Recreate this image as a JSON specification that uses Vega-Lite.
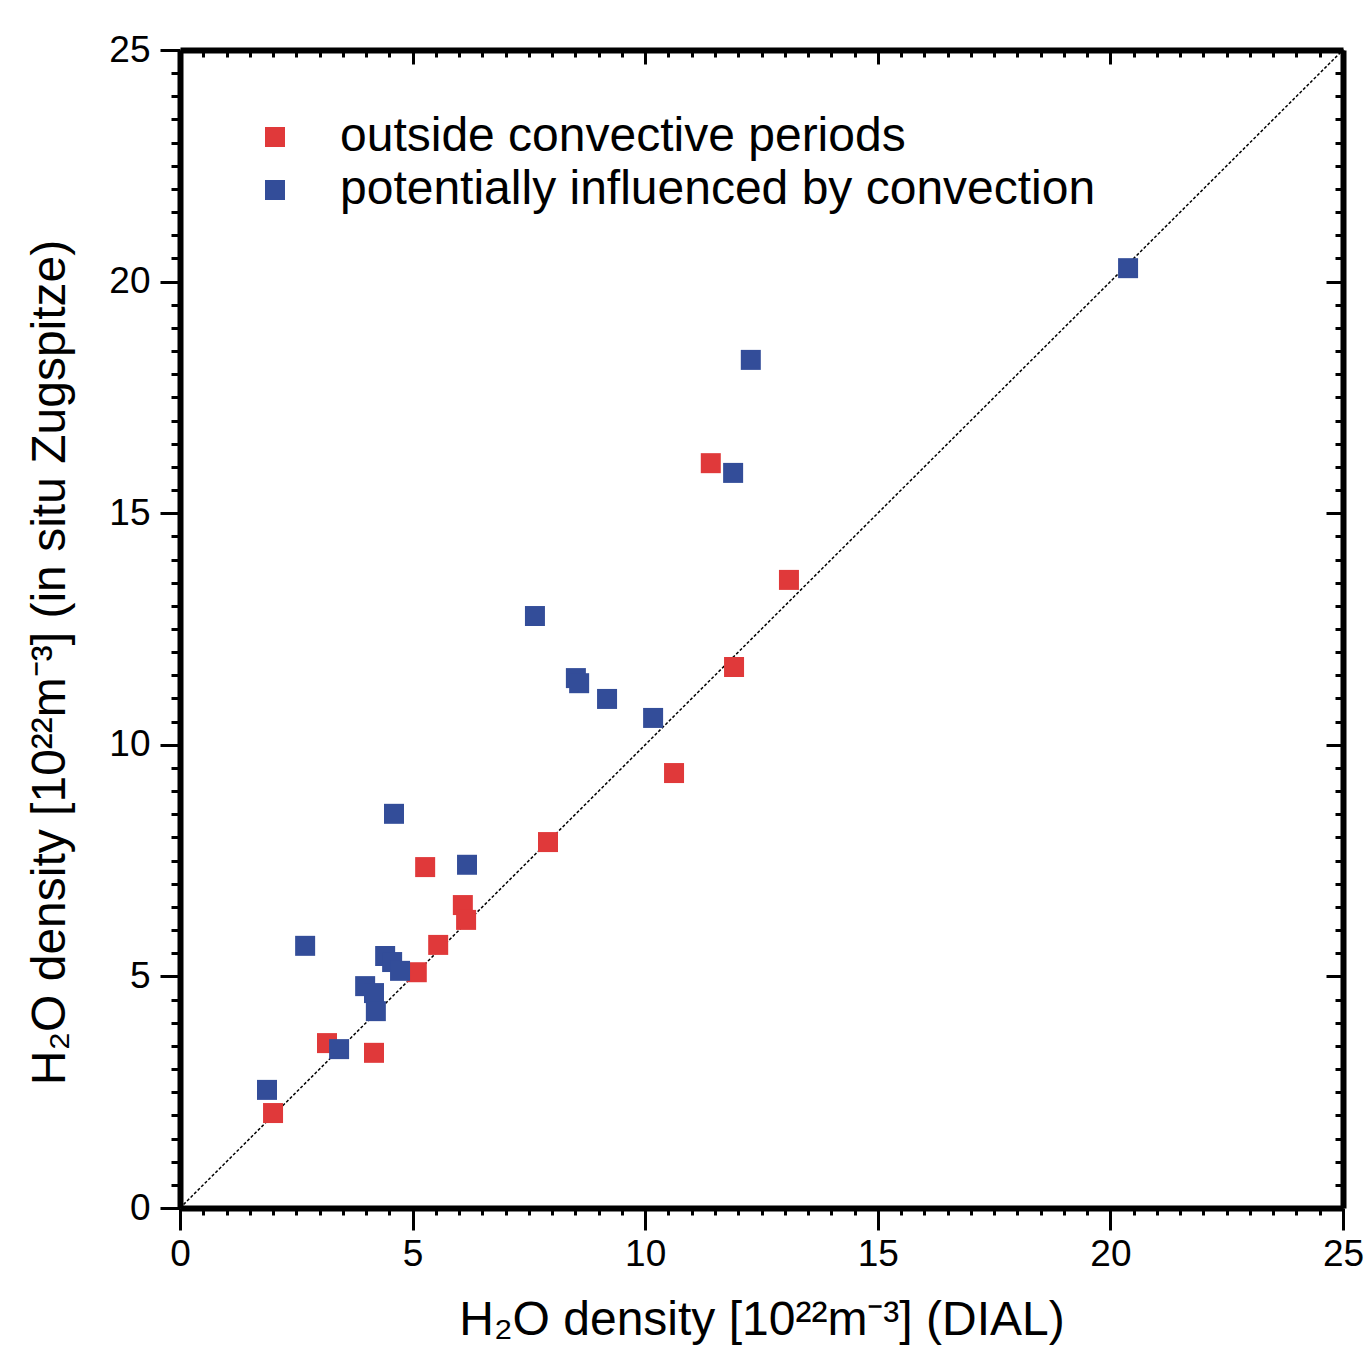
{
  "$schema": "https://vega.github.io/schema/vega-lite/v6.json",
  "width": 1163,
  "height": 1158,
  "autosize": "none",
  "padding": {"left": 180, "top": 50, "right": 23, "bottom": 144},
  "background": "white",
  "config": {
    "font": "Liberation Sans",
    "view": {"stroke": null},
    "axis": {"grid": false, "domainColor": "black", "domainWidth": 6, "tickColor": "black", "tickWidth": 3, "labelColor": "black", "titleColor": "black", "labelFont": "Liberation Sans", "titleFont": "Liberation Sans", "labelFontWeight": "normal", "titleFontWeight": "normal"}
  },
  "datasets": {
    "pts": [
      {"dial": 11.41, "insitu": 16.08, "group": "outside convective periods"},
      {"dial": 13.09, "insitu": 13.56, "group": "outside convective periods"},
      {"dial": 11.91, "insitu": 11.68, "group": "outside convective periods"},
      {"dial": 10.62, "insitu": 9.39, "group": "outside convective periods"},
      {"dial": 7.91, "insitu": 7.90, "group": "outside convective periods"},
      {"dial": 5.27, "insitu": 7.36, "group": "outside convective periods"},
      {"dial": 6.08, "insitu": 6.54, "group": "outside convective periods"},
      {"dial": 6.15, "insitu": 6.22, "group": "outside convective periods"},
      {"dial": 5.55, "insitu": 5.68, "group": "outside convective periods"},
      {"dial": 5.09, "insitu": 5.09, "group": "outside convective periods"},
      {"dial": 3.16, "insitu": 3.56, "group": "outside convective periods"},
      {"dial": 4.17, "insitu": 3.35, "group": "outside convective periods"},
      {"dial": 2.00, "insitu": 2.05, "group": "outside convective periods"},
      {"dial": 20.38, "insitu": 20.29, "group": "potentially influenced by convection"},
      {"dial": 12.27, "insitu": 18.31, "group": "potentially influenced by convection"},
      {"dial": 11.89, "insitu": 15.87, "group": "potentially influenced by convection"},
      {"dial": 7.63, "insitu": 12.78, "group": "potentially influenced by convection"},
      {"dial": 8.51, "insitu": 11.44, "group": "potentially influenced by convection"},
      {"dial": 8.58, "insitu": 11.33, "group": "potentially influenced by convection"},
      {"dial": 9.18, "insitu": 10.99, "group": "potentially influenced by convection"},
      {"dial": 10.17, "insitu": 10.58, "group": "potentially influenced by convection"},
      {"dial": 4.60, "insitu": 8.51, "group": "potentially influenced by convection"},
      {"dial": 6.17, "insitu": 7.41, "group": "potentially influenced by convection"},
      {"dial": 2.69, "insitu": 5.66, "group": "potentially influenced by convection"},
      {"dial": 4.41, "insitu": 5.44, "group": "potentially influenced by convection"},
      {"dial": 4.56, "insitu": 5.31, "group": "potentially influenced by convection"},
      {"dial": 4.73, "insitu": 5.12, "group": "potentially influenced by convection"},
      {"dial": 3.98, "insitu": 4.79, "group": "potentially influenced by convection"},
      {"dial": 4.17, "insitu": 4.64, "group": "potentially influenced by convection"},
      {"dial": 4.21, "insitu": 4.25, "group": "potentially influenced by convection"},
      {"dial": 3.42, "insitu": 3.43, "group": "potentially influenced by convection"},
      {"dial": 1.87, "insitu": 2.55, "group": "potentially influenced by convection"}
    ],
    "line": [{"x1": 0, "y1": 0, "x2": 25, "y2": 25}]
  },
  "layer": [
    {
      "data": {"name": "line"},
      "mark": {"type": "rule", "color": "black", "strokeOpacity": 0},
      "encoding": {
        "x": {"field": "x1", "type": "quantitative", "scale": {"domain": [0, 25], "nice": false},
          "axis": {"orient": "bottom", "domain": false, "labels": false, "title": null, "tickSize": 7,
            "values": [0.5,1,1.5,2,2.5,3,3.5,4,4.5,5.5,6,6.5,7,7.5,8,8.5,9,9.5,10.5,11,11.5,12,12.5,13,13.5,14,14.5,15.5,16,16.5,17,17.5,18,18.5,19,19.5,20.5,21,21.5,22,22.5,23,23.5,24,24.5]}},
        "y": {"field": "y1", "type": "quantitative", "scale": {"domain": [0, 25], "nice": false},
          "axis": {"orient": "left", "domain": false, "labels": false, "title": null, "tickSize": 9,
            "values": [0.5,1,1.5,2,2.5,3,3.5,4,4.5,5.5,6,6.5,7,7.5,8,8.5,9,9.5,10.5,11,11.5,12,12.5,13,13.5,14,14.5,15.5,16,16.5,17,17.5,18,18.5,19,19.5,20.5,21,21.5,22,22.5,23,23.5,24,24.5]}},
        "x2": {"field": "x2"},
        "y2": {"field": "y2"}
      }
    },
    {
      "data": {"name": "line"},
      "mark": {"type": "rule", "color": "black", "strokeOpacity": 0},
      "encoding": {
        "x": {"field": "x1", "type": "quantitative", "scale": {"domain": [0, 25], "nice": false},
          "axis": {"orient": "top", "domain": false, "labels": false, "title": null, "tickSize": -7,
            "values": [0.5,1,1.5,2,2.5,3,3.5,4,4.5,5.5,6,6.5,7,7.5,8,8.5,9,9.5,10.5,11,11.5,12,12.5,13,13.5,14,14.5,15.5,16,16.5,17,17.5,18,18.5,19,19.5,20.5,21,21.5,22,22.5,23,23.5,24,24.5]}},
        "y": {"field": "y1", "type": "quantitative", "scale": {"domain": [0, 25], "nice": false},
          "axis": {"orient": "right", "domain": false, "labels": false, "title": null, "tickSize": -8,
            "values": [0.5,1,1.5,2,2.5,3,3.5,4,4.5,5.5,6,6.5,7,7.5,8,8.5,9,9.5,10.5,11,11.5,12,12.5,13,13.5,14,14.5,15.5,16,16.5,17,17.5,18,18.5,19,19.5,20.5,21,21.5,22,22.5,23,23.5,24,24.5]}},
        "x2": {"field": "x2"},
        "y2": {"field": "y2"}
      }
    },
    {
      "data": {"name": "line"},
      "mark": {"type": "rule", "color": "black", "strokeWidth": 1.5, "strokeDash": [3, 2]},
      "encoding": {
        "x": {"field": "x1", "type": "quantitative", "scale": {"domain": [0, 25], "nice": false},
          "axis": {"orient": "bottom", "values": [0, 5, 10, 15, 20, 25], "format": "d",
            "tickSize": 22, "labelFontSize": 37, "labelPadding": 6, "labelFlush": false, "labelOverlap": false,
            "title": "H₂O density [10²²m⁻³] (DIAL)", "titleFontSize": 48, "titlePadding": 24}},
        "y": {"field": "y1", "type": "quantitative", "scale": {"domain": [0, 25], "nice": false},
          "axis": {"orient": "left", "values": [0, 5, 10, 15, 20, 25], "format": "d",
            "tickSize": 20, "labelFontSize": 37, "labelPadding": 10, "labelFlush": false, "labelOverlap": false,
            "title": "H₂O density [10²²m⁻³] (in situ Zugspitze)", "titleFontSize": 48, "titlePadding": 34, "titleY": 612}},
        "x2": {"field": "x2"},
        "y2": {"field": "y2"}
      }
    },
    {
      "data": {"name": "pts"},
      "mark": {"type": "square", "size": 400, "opacity": 1, "filled": true},
      "encoding": {
        "x": {"field": "dial", "type": "quantitative", "scale": {"domain": [0, 25], "nice": false},
          "axis": {"orient": "top", "values": [0, 5, 10, 15, 20, 25], "tickSize": -14, "labels": false, "title": null}},
        "y": {"field": "insitu", "type": "quantitative", "scale": {"domain": [0, 25], "nice": false},
          "axis": {"orient": "right", "values": [0, 5, 10, 15, 20, 25], "tickSize": -17, "labels": false, "title": null}},
        "color": {"field": "group", "type": "nominal",
          "scale": {"domain": ["outside convective periods", "potentially influenced by convection"], "range": ["#e0393a", "#334d99"]},
          "legend": {"orient": "none", "legendX": 71, "legendY": 63, "title": null, "padding": 0,
            "symbolType": "square", "symbolSize": 400, "symbolOpacity": 1, "symbolStrokeWidth": 0,
            "labelFontSize": 48, "labelOffset": 41, "labelColor": "black", "labelFont": "Liberation Sans", "labelLimit": 1000, "rowPadding": 5}}
      }
    }
  ],
  "resolve": {"axis": {"x": "independent", "y": "independent"}}
}
